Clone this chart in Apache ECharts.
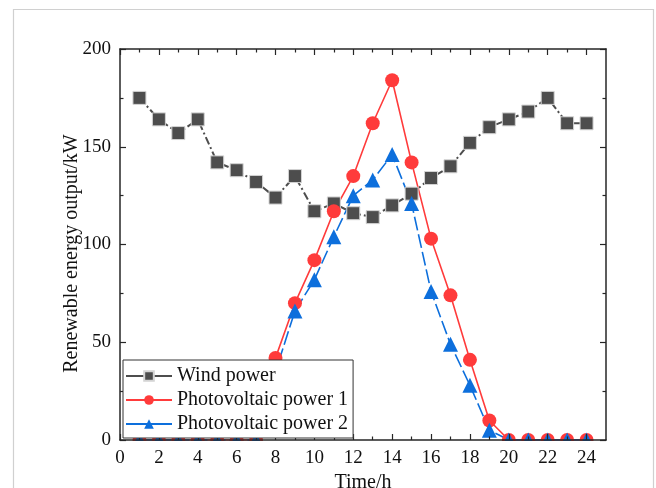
<!DOCTYPE html>
<html>
<head>
<meta charset="utf-8">
<script src="https://cdn.jsdelivr.net/npm/echarts@6/dist/echarts.min.js"></script>
<style>
  html, body { margin: 0; padding: 0; background: #fff; }
  #chart { width: 656px; height: 488px; }
</style>
</head>
<body>
<div id="chart"></div>
<script>
// Hourly renewable output (kW) over one day
const hours = [1, 2, 3, 4, 5, 6, 7, 8, 9, 10, 11, 12, 13, 14, 15, 16, 17, 18, 19, 20, 21, 22, 23, 24];
const windPower = [175, 164, 157, 164, 142, 138, 132, 124, 135, 117, 121, 116, 114, 120, 126, 134, 140, 152, 160, 164, 168, 175, 162, 162];
const pvPower1 = [0, 0, 0, 0, 0, 0, 0, 42, 70, 92, 117, 135, 162, 184, 142, 103, 74, 41, 10, 0, 0, 0, 0, 0];
const pvPower2 = [0, 0, 0, 0, 0, 0, 0, 35, 66, 82, 104, 125, 133, 146, 121, 76, 49, 28, 5, 0, 0, 0, 0, 0];
const seriesNames = ['Wind power', 'Photovoltaic power 1', 'Photovoltaic power 2'];
const xMajorTicks = [0, 2, 4, 6, 8, 10, 12, 14, 16, 18, 20, 22, 24];
const xMinorTicks = [1, 3, 5, 7, 9, 11, 13, 15, 17, 19, 21, 23];

const FONT = '"Liberation Serif", "Times New Roman", serif';
const AXIS_COLOR = '#262626';
const TEXT_COLOR = '#111';

const pairs = ys => hours.map((h, i) => [h, ys[i]]);

function xAxisDef(position, ticks, length, showLabels, showLine, extra) {
  return Object.assign({
    type: 'value', position, min: 0, max: 25, z: 3,
    axisLine: { show: showLine, onZero: false, lineStyle: { color: AXIS_COLOR, width: 1.5 } },
    axisTick: { show: true, inside: true, length, customValues: ticks, lineStyle: { color: AXIS_COLOR, width: 1.2 } },
    axisLabel: showLabels
      ? { show: true, customValues: xMajorTicks, margin: 9, fontFamily: FONT, fontSize: 19, color: TEXT_COLOR }
      : { show: false },
    splitLine: { show: false }
  }, extra || {});
}

function yAxisDef(position, showLabels, extra) {
  return Object.assign({
    type: 'value', position, min: 0, max: 200, interval: 50, z: 3,
    axisLine: { show: true, onZero: false, lineStyle: { color: AXIS_COLOR, width: 1.5 } },
    axisTick: { show: true, inside: true, length: 6, lineStyle: { color: AXIS_COLOR, width: 1.2 } },
    minorTick: { show: true, splitNumber: 2, length: 3.5, lineStyle: { color: AXIS_COLOR, width: 1.2 } },
    axisLabel: showLabels
      ? { show: true, margin: 9, fontFamily: FONT, fontSize: 19, color: TEXT_COLOR }
      : { show: false },
    splitLine: { show: false },
    minorSplitLine: { show: false }
  }, extra || {});
}

const chart = echarts.init(document.getElementById('chart'), null, { renderer: 'canvas' });

chart.setOption({
  backgroundColor: '#fff',
  animation: false,
  grid: { left: 120, top: 49, right: 50, bottom: 48, containLabel: false, outerBoundsMode: 'none' },
  xAxis: [
    xAxisDef('bottom', xMajorTicks, 6, true, true, {
      name: 'Time/h', nameLocation: 'middle', nameGap: 33, nameMoveOverlap: false,
      nameTextStyle: { fontFamily: FONT, fontSize: 20, color: TEXT_COLOR }
    }),
    xAxisDef('bottom', xMinorTicks, 3.5, false, false),
    xAxisDef('top', xMajorTicks, 6, false, true),
    xAxisDef('top', xMinorTicks, 3.5, false, false)
  ],
  yAxis: [
    yAxisDef('left', true, {
      name: 'Renewable energy output/kW', nameLocation: 'middle', nameGap: 38, nameMoveOverlap: false,
      nameTextStyle: { fontFamily: FONT, fontSize: 20, color: TEXT_COLOR, padding: [0, 18, 0, 0] }
    }),
    yAxisDef('right', false)
  ],
  legend: {
    data: seriesNames,
    orient: 'vertical',
    left: 123, top: 360,
    padding: [6, 5, 4, 2],
    itemGap: 4,
    itemWidth: 46, itemHeight: 12,
    backgroundColor: '#fff',
    borderColor: '#333', borderWidth: 1, borderRadius: 0,
    lineStyle: { type: 'solid' },
    textStyle: { fontFamily: FONT, fontSize: 20, color: TEXT_COLOR }
  },
  graphic: [
    {
      type: 'rect', z: 0, silent: true,
      shape: { x: 13.5, y: 9.5, width: 640, height: 500 },
      style: { fill: 'none', stroke: '#d0d0d0', lineWidth: 1.2 }
    },
    {
      // hides the lower halves of markers that sit on the zero line
      type: 'rect', z: 2.5, silent: true,
      shape: { x: 100, y: 441, width: 520, height: 8 },
      style: { fill: '#fff' }
    }
  ],
  series: [
    {
      name: seriesNames[0], type: 'line', data: pairs(windPower),
      symbol: 'rect', symbolSize: 13,
      itemStyle: { color: '#4d4d4d', borderColor: '#d4d4d4', borderWidth: 1 },
      lineStyle: { color: '#4d4d4d', width: 2, type: [8, 3, 2, 3] },
      z: 2
    },
    {
      name: seriesNames[1], type: 'line', data: pairs(pvPower1),
      symbol: 'circle', symbolSize: 14,
      itemStyle: { color: '#ff3b3b' },
      lineStyle: { color: '#ff3b3b', width: 1.6, type: 'solid' },
      z: 2
    },
    {
      name: seriesNames[2], type: 'line', data: pairs(pvPower2),
      symbol: 'triangle', symbolSize: 15,
      itemStyle: { color: '#0d6fdc' },
      lineStyle: { color: '#0d6fdc', width: 1.6, type: [14, 4] },
      z: 2
    }
  ]
});
</script>
</body>
</html>
